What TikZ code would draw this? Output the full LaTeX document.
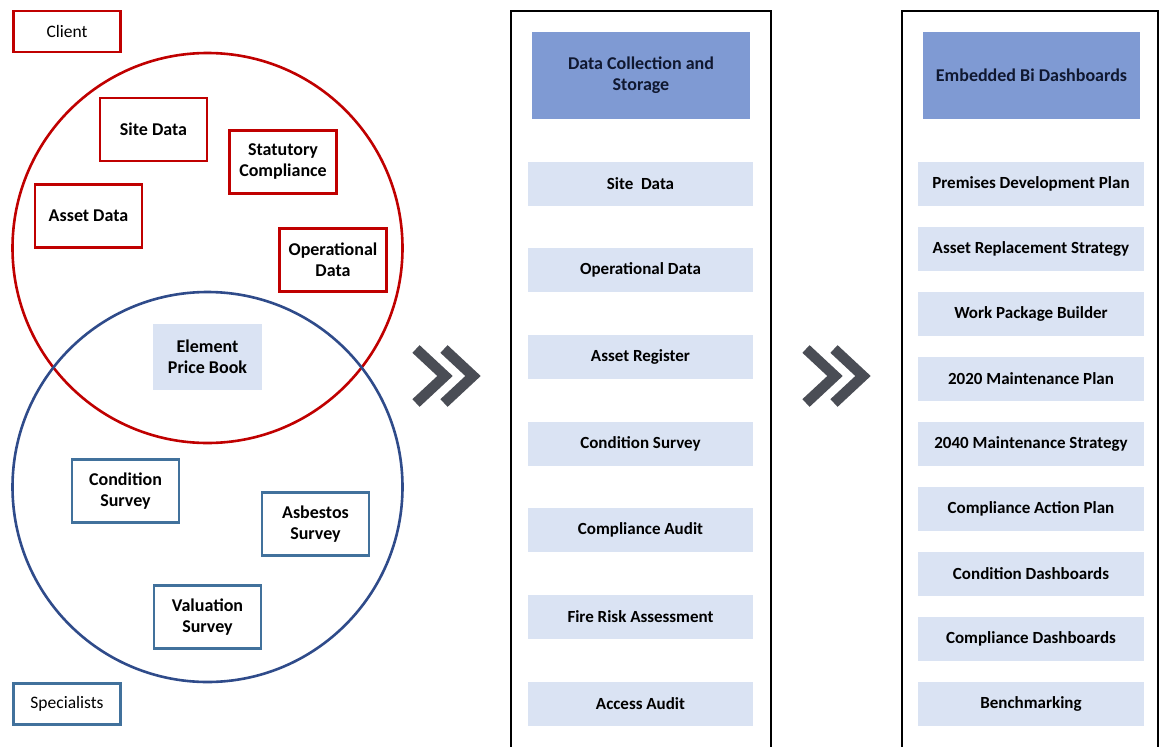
\documentclass[tikz,border=0pt]{standalone}
\usepackage{fontspec}
\setmainfont{Carlito}
\definecolor{cred}{HTML}{C00000}
\definecolor{cblue}{HTML}{2F4B8A}
\definecolor{bbox}{HTML}{41719C}
\definecolor{lightfill}{HTML}{DAE3F3}
\definecolor{headfill}{HTML}{7F9AD3}
\definecolor{chev}{HTML}{4A4D55}
\definecolor{headtext}{HTML}{101830}
\begin{document}
\begin{tikzpicture}[x=1pt,y=-1pt,
  redbox/.style={draw=cred,line width=2.8pt,minimum width=107pt,minimum height=63pt,inner sep=0pt,align=center,font=\fontsize{18}{21}\selectfont\bfseries},
  bluebox/.style={draw=bbox,line width=2.8pt,minimum width=107pt,minimum height=63pt,inner sep=0pt,align=center,font=\fontsize{18}{21}\selectfont\bfseries},
  tagbox/.style={line width=2.8pt,minimum width=107pt,minimum height=41pt,inner sep=0pt,font=\fontsize{17.5}{19}\selectfont},
  headbox/.style={fill=headfill,minimum width=218pt,minimum height=87pt,inner sep=0pt,align=center,text=headtext,font=\fontsize{18}{21}\selectfont\bfseries},
  itembox/.style={fill=lightfill,minimum width=225pt,minimum height=44pt,inner sep=0pt,font=\fontsize{17}{19}\selectfont\bfseries},
  panel/.style={draw=black,line width=2.8pt},
  chevstroke/.style={draw=chev,line width=10.5pt,line join=miter,line cap=butt}]
\useasboundingbox (0,0) rectangle (1160,747);
\clip (0,0) rectangle (1160,747);
\fill[white] (0,0) rectangle (1160,747);

% circles
\node[circle,draw=cred,line width=2.6pt,minimum size=390pt,inner sep=0pt] (redc) at (207.5,248) {};
\node[circle,draw=cblue,line width=2.6pt,minimum size=390pt,inner sep=0pt] (bluec) at (207.5,487) {};

% tags
\node[tagbox,draw=cred] (client) at (67,31.5) {Client};
\node[tagbox,draw=bbox] (spec) at (67,704) {Specialists};

% client boxes
\node[redbox] (site) at (153.5,129.5) {Site Data};
\node[redbox] (stat) at (283,162) {Statutory\\Compliance};
\node[redbox] (asset) at (88.5,216) {Asset Data};
\node[redbox] (oper) at (333,260) {Operational\\Data};
\node[fill=lightfill,minimum width=109pt,minimum height=66pt,inner sep=0pt,align=center,font=\fontsize{18}{21}\selectfont\bfseries] (epb) at (207.5,357) {Element\\Price Book};

% specialist boxes
\node[bluebox] (cond) at (125.5,491) {Condition\\Survey};
\node[bluebox] (asb) at (315.5,524) {Asbestos\\Survey};
\node[bluebox] (val) at (207.5,617) {Valuation\\Survey};

% chevrons
\foreach \dx in {0,390}{
  \draw[chevstroke] (416+\dx,349) -- (445+\dx,376) -- (416+\dx,403);
  \draw[chevstroke] (444+\dx,349) -- (473+\dx,376) -- (444+\dx,403);
}

% middle panel
\draw[panel] (511,11) rectangle (771,770);
\node[headbox] (h1) at (641,75.5) {Data Collection and\\Storage};
\node[itembox] (m1) at (640.5,183.5) {Site\ \ Data};
\node[itembox] (m2) at (640.5,270) {Operational Data};
\node[itembox] (m3) at (640.5,357) {Asset Register};
\node[itembox] (m4) at (640.5,443.5) {Condition Survey};
\node[itembox] (m5) at (640.5,530) {Compliance Audit};
\node[itembox] (m6) at (640.5,617) {Fire Risk Assessment};
\node[itembox] (m7) at (640.5,704) {Access Audit};

% right panel
\draw[panel] (902,11) rectangle (1158,770);
\node[headbox,minimum width=217pt] (h2) at (1031.5,75.5) {Embedded Bi Dashboards};
\node[itembox,minimum width=226pt] (r1) at (1031,183.5) {Premises Development Plan};
\node[itembox,minimum width=226pt] (r2) at (1031,248.5) {Asset Replacement Strategy};
\node[itembox,minimum width=226pt] (r3) at (1031,313.5) {Work Package Builder};
\node[itembox,minimum width=226pt] (r4) at (1031,379) {2020 Maintenance Plan};
\node[itembox,minimum width=226pt] (r5) at (1031,444) {2040 Maintenance Strategy};
\node[itembox,minimum width=226pt] (r6) at (1031,509) {Compliance Action Plan};
\node[itembox,minimum width=226pt] (r7) at (1031,574) {Condition Dashboards};
\node[itembox,minimum width=226pt] (r8) at (1031,639) {Compliance Dashboards};
\node[itembox,minimum width=226pt] (r9) at (1031,704) {Benchmarking};
\end{tikzpicture}
\end{document}
